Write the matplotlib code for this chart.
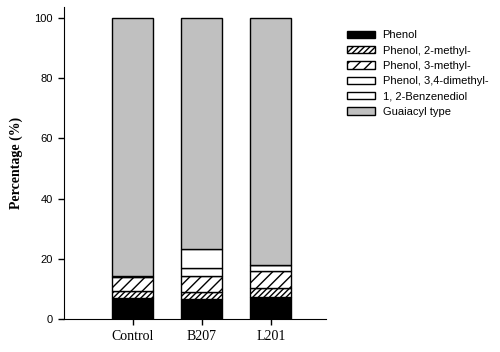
import numpy as np
import matplotlib.pyplot as plt

# Sample groups and compound shares (%)
groups = ['Control', 'B207', 'L201']
phenol = [7.2, 6.7, 7.5]
phenol_2methyl = [2.2, 2.5, 2.8]
phenol_3methyl = [4.5, 5.0, 5.8]
phenol_34dimethyl = [0.3, 2.8, 2.0]
benzenediol = [0.0, 6.4, 0.0]
guaiacyl = [85.8, 76.6, 81.9]

series = [
    ('Phenol', phenol, 'black', None),
    ('Phenol, 2-methyl-', phenol_2methyl, 'white', '//////'),
    ('Phenol, 3-methyl-', phenol_3methyl, 'white', '///'),
    ('Phenol, 3,4-dimethyl-', phenol_34dimethyl, 'white', None),
    ('1, 2-Benzenediol', benzenediol, 'white', None),
    ('Guaiacyl type', guaiacyl, '#c0c0c0', None),
]

plt.rcParams['hatch.linewidth'] = 1.0

fig = plt.figure(figsize=(5, 3.52), dpi=100)
ax = fig.add_axes([0.127, 0.093, 0.525, 0.886])

x = np.arange(len(groups))
bottom = np.zeros(len(groups))
handles = []
for name, vals, color, hatch in series:
    b = ax.bar(x, vals, width=0.6, bottom=bottom, color=color, hatch=hatch,
               edgecolor='black', linewidth=1.0, label=name)
    handles.append(b)
    bottom += np.array(vals)

ax.set_xlim(-1.0, 2.8)
ax.set_ylim(0, 103.5)
ax.set_yticks([0, 20, 40, 60, 80, 100])
ax.set_xticks(x)
ax.set_xticklabels(groups, fontfamily='Liberation Serif', fontsize=10)
for lab in ax.get_yticklabels():
    lab.set_fontfamily('Liberation Sans')
    lab.set_fontsize(8)
ax.tick_params(direction='out', length=4, width=1)
ax.spines['top'].set_visible(False)
ax.spines['right'].set_visible(False)
ax.set_ylabel('Percentage (%)', fontfamily='Liberation Serif', fontweight='bold',
              fontsize=10, labelpad=8)

fig.legend(handles=handles, loc='upper left', bbox_to_anchor=(0.694, 0.914),
           frameon=False, borderpad=0, borderaxespad=0,
           prop={'family': 'Liberation Sans', 'size': 8},
           handlelength=2.5, handleheight=0.6, handletextpad=0.7,
           labelspacing=0.48)

plt.savefig('out.png', dpi=100)
